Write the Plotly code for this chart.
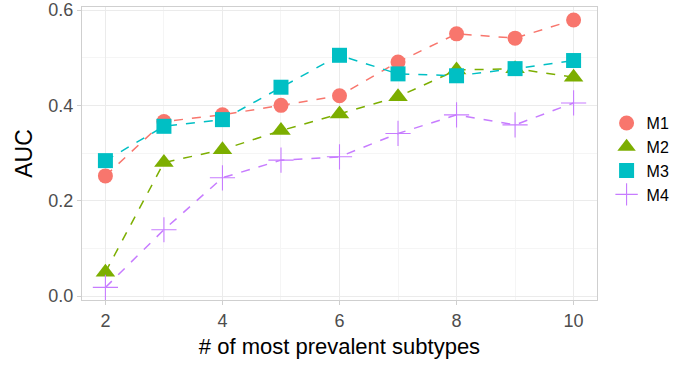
import plotly.graph_objects as go

x_vals = [2, 3, 4, 5, 6, 7, 8, 9, 10]
m1 = [0.252, 0.366, 0.380, 0.400, 0.420, 0.491, 0.550, 0.541, 0.579]
m2 = [0.050, 0.280, 0.307, 0.347, 0.382, 0.418, 0.474, 0.477, 0.459]
m3 = [0.284, 0.356, 0.370, 0.438, 0.505, 0.466, 0.462, 0.477, 0.494]
m4 = [0.018, 0.139, 0.248, 0.285, 0.292, 0.341, 0.380, 0.359, 0.405]
series_names = ["M1", "M2", "M3", "M4"]
colors = ["#F8766D", "#7CAE00", "#00BFC4", "#C77CFF"]
symbols = ["circle", "triangle-up", "square", "cross-thin"]
sizes = [15, 17, 15, 18]
x_ticks = [2, 4, 6, 8, 10]
y_ticks = [0.0, 0.2, 0.4, 0.6]
y_tick_labels = ["0.0", "0.2", "0.4", "0.6"]

fig = go.Figure()
for name, ys, c, s, sz in zip(series_names, [m1, m2, m3, m4], colors, symbols, sizes):
    marker = dict(symbol=s, size=sz, color=c)
    if s == "cross-thin":
        marker["line"] = dict(color=c, width=1.1)
    else:
        marker["line"] = dict(width=0)
    fig.add_trace(go.Scatter(
        x=x_vals, y=ys, mode="lines+markers", name=name,
        line=dict(color=c, width=1.5, dash="dash"),
        marker=marker, showlegend=False,
    ))
    fig.add_trace(go.Scatter(
        x=[None], y=[None], mode="markers", name=name,
        marker=marker, showlegend=True,
    ))

axis_common = dict(
    automargin=False,
    showgrid=True, gridcolor="#ebebeb", gridwidth=1,
    showline=True, linecolor="#cfcfcf", linewidth=1, mirror=True,
    ticks="outside", tickcolor="#cfcfcf", ticklen=4,
    tickfont=dict(family="Liberation Sans, Arial", size=18, color="#4d4d4d"),
    ticklabeloverflow="allow",
    zeroline=False,
    minor=dict(showgrid=True, gridcolor="#f5f5f5", gridwidth=1),
)

fig.update_layout(
    width=697, height=367,
    margin=dict(l=82, r=100, t=7, b=67),
    plot_bgcolor="white", paper_bgcolor="white",
    font=dict(family="Liberation Sans, Arial", color="black"),
    xaxis=dict(**axis_common, range=[1.6, 10.4], tickvals=x_ticks,
               title=dict(text="# of most prevalent subtypes", font=dict(size=22, color="black"), standoff=9)),
    yaxis=dict(**axis_common, range=[-0.0084, 0.6063], tickvals=y_ticks, ticktext=y_tick_labels,
               title=dict(text="AUC", font=dict(size=23, color="black"), standoff=9)),
    legend=dict(x=1.0186, y=0.662, xanchor="left", yanchor="top",
                font=dict(size=16, color="black"), tracegroupgap=0,
                itemsizing="trace", bgcolor="rgba(0,0,0,0)"),
)
fig.update_xaxes(minor=dict(tickvals=[3, 5, 7, 9]))
fig.update_yaxes(minor=dict(tickvals=[0.1, 0.3, 0.5]))

fig.write_html("out.html", config={"displayModeBar": False},
               post_script="document.body.style.margin='0';")
